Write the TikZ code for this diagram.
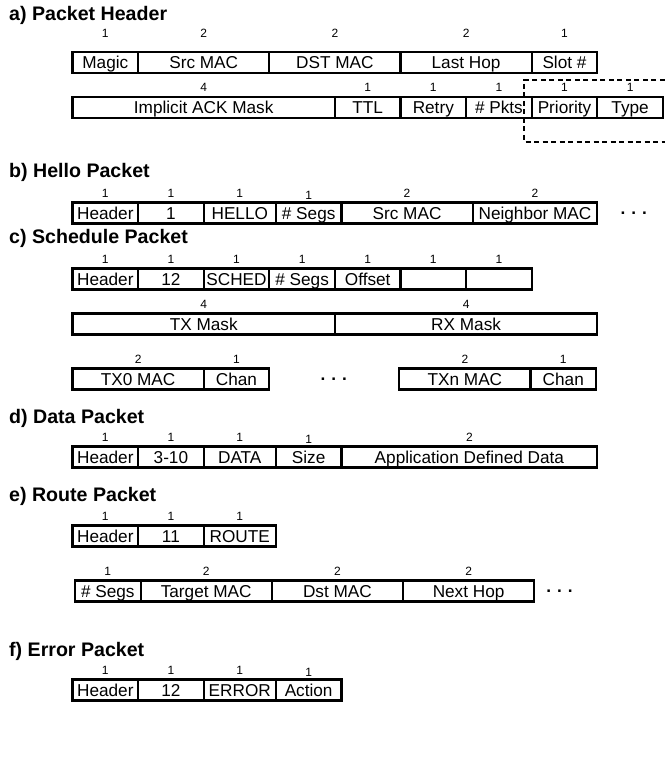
\documentclass[tikz,border=0pt]{standalone}
\usepackage{fontspec}
\setmainfont{Liberation Sans}
\usetikzlibrary{positioning}

\begin{document}
\begin{tikzpicture}[
    x=1pt, y=-1pt,
    node distance=0pt,
    title/.style={anchor=west, inner sep=0pt, font=\fontsize{19.6}{22}\selectfont\bfseries},
    num/.style={inner sep=0pt, label distance=5pt, font=\fontsize{12}{14}\selectfont},
    fld/.style={draw, line width=2.2pt, inner sep=0pt, outer sep=0pt,
        minimum height=21pt, minimum width=#1*65.6pt,
        font=\fontsize{17.2}{20}\selectfont, text height=16pt, text depth=3.6pt},
    sz/.style={label={[num]above:#1}},
    szhi/.style={label={[num, label distance=14.5pt]above:#1}},
    szlo/.style={label={[num, label distance=3pt]above:#1}},
    more/.style={inner sep=0pt, font=\fontsize{17.2}{20}\selectfont\bfseries}
]
\useasboundingbox (0,0) rectangle (664,757);

% a) header
\node[title] (ta) at (9,15) {a) Packet Header};
\node[fld=1, szhi=1, anchor=west] (mg) at (72.5,62.5) {Magic};
\node[fld=2, szhi=2, right=of mg] (asrc) {Src MAC};
\node[fld=2, szhi=2, right=of asrc] (adst) {DST MAC};
\node[fld=2, szhi=2, right=of adst] (alast) {Last Hop};
\node[fld=1, szhi=1, right=of alast] (aslot) {Slot \#};
\node[fld=4, sz=4, anchor=west] (ack) at (72.5,107.5) {Implicit ACK Mask};
\node[fld=1, sz=1, right=of ack] (ttl) {TTL};
\node[fld=1, sz=1, right=of ttl] (retry) {Retry};
\node[fld=1, sz=1, right=of retry] (pkts) {\# Pkts};
\node[fld=1, sz=1, right=of pkts] (prio) {Priority};
\node[fld=1, sz=1, right=of prio] (type) {Type};
\draw[line width=1.4pt, dash pattern=on 5pt off 3.5pt] (664.5,80) -- (524,80) -- (524,142) -- (664.5,142);

% b) hello
\node[title] (tb) at (9,172) {b) Hello Packet};
\node[fld=1, sz=1, anchor=west] (bhdr) at (72.5,213) {Header};
\node[fld=1, sz=1, right=of bhdr] (bone) {1};
\node[fld=1.1, sz=1, right=of bone] (hello) {HELLO};
\node[fld=1, szlo=1, right=of hello] (bsegs) {\# Segs};
\node[fld=2, sz=2, right=of bsegs] (bsrc) {Src MAC};
\node[fld=1.9, sz=2, right=of bsrc] (nbr) {Neighbor MAC};
\node[more, right=23pt of nbr] (bdots) {.\hspace{6pt}.\hspace{6pt}.};

% c) schedule
\node[title] (tc) at (9,238) {c) Schedule Packet};
\node[fld=1, sz=1, anchor=west] (chdr) at (72.5,279) {Header};
\node[fld=1, sz=1, right=of chdr] (ctwelve) {12};
\node[fld=1, sz=1, right=of ctwelve] (sched) {SCHED};
\node[fld=1, sz=1, right=of sched] (csegs) {\# Segs};
\node[fld=1, sz=1, right=of csegs] (offset) {Offset};
\node[fld=1, sz=1, right=of offset] (cblka) {};
\node[fld=1, sz=1, right=of cblka] (cblkb) {};
\node[fld=4, sz=4, anchor=west] (txmask) at (72.5,324) {TX Mask};
\node[fld=4, sz=4, right=of txmask] (rxmask) {RX Mask};
\node[fld=2, sz=2, anchor=west] (txzero) at (72.5,379) {TX0 MAC};
\node[fld=1, sz=1, right=of txzero] (chanzero) {Chan};
\node[more, right=51pt of chanzero] (cdots) {.\hspace{6pt}.\hspace{6pt}.};
\node[fld=2, sz=2, anchor=west] (txn) at (399.3,379) {TXn MAC};
\node[fld=1, sz=1, right=of txn] (chann) {Chan};

% d) data
\node[title] (td) at (9,418) {d) Data Packet};
\node[fld=1, sz=1, anchor=west] (dhdr) at (72.5,457) {Header};
\node[fld=1, sz=1, right=of dhdr] (dtype) {3-10};
\node[fld=1.1, sz=1, right=of dtype] (data) {DATA};
\node[fld=1, szlo=1, right=of data] (size) {Size};
\node[fld=3.9, sz=2, right=of size] (app) {Application Defined Data};

% e) route
\node[title] (te) at (9,496) {e) Route Packet};
\node[fld=1, sz=1, anchor=west] (ehdr) at (72.5,536) {Header};
\node[fld=1, sz=1, right=of ehdr] (eleven) {11};
\node[fld=1.1, sz=1, right=of eleven] (route) {ROUTE};
\node[fld=1, sz=1, anchor=west] (esegs) at (75,591) {\# Segs};
\node[fld=2, sz=2, right=of esegs] (target) {Target MAC};
\node[fld=2, sz=2, right=of target] (edst) {Dst MAC};
\node[fld=2, sz=2, right=of edst] (nexthop) {Next Hop};
\node[more, right=12pt of nexthop] (edots) {.\hspace{6pt}.\hspace{6pt}.};

% f) error
\node[title] (tf) at (9,651) {f) Error Packet};
\node[fld=1, sz=1, anchor=west] (fhdr) at (72.5,690) {Header};
\node[fld=1, sz=1, right=of fhdr] (ftwelve) {12};
\node[fld=1.1, sz=1, right=of ftwelve] (error) {ERROR};
\node[fld=1, szlo=1, right=of error] (action) {Action};
\end{tikzpicture}
\end{document}
